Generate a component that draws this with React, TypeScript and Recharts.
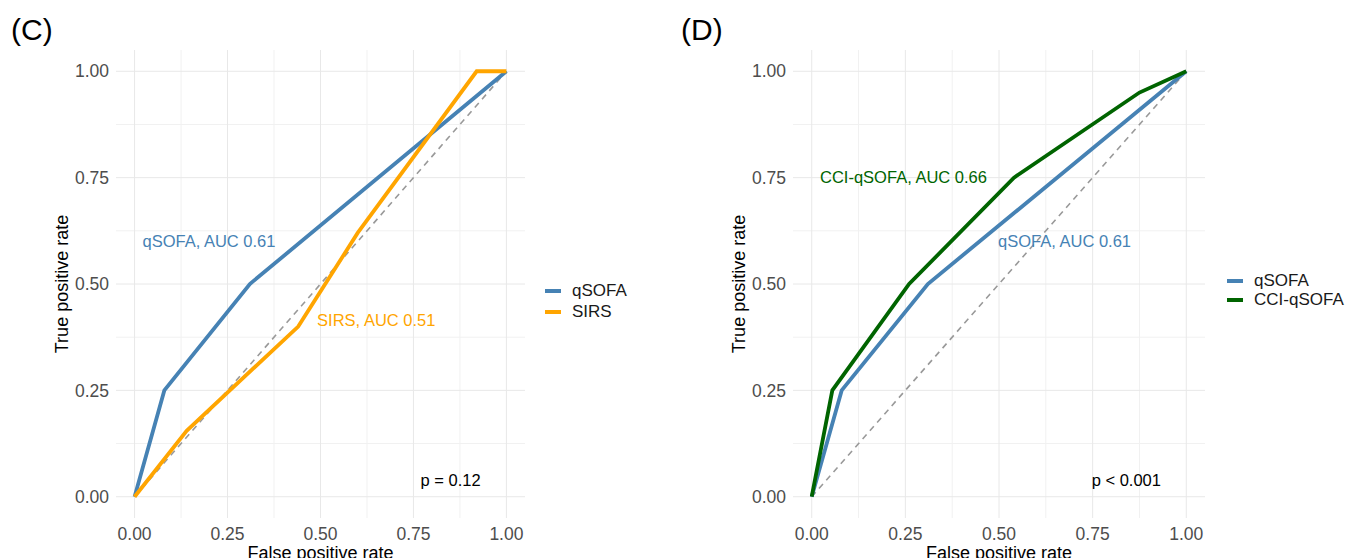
import React from "react";
import {
  LineChart,
  Line,
  XAxis,
  YAxis,
  CartesianGrid,
  ReferenceLine,
  ReferenceDot,
  Legend,
} from "recharts";

// ROC points
const qsofaFpr = [0, 0.08, 0.31, 1];
const qsofaTpr = [0, 0.25, 0.5, 1];

const sirsFpr = [0, 0.14, 0.44, 0.6, 0.92, 1];
const sirsTpr = [0, 0.155, 0.4, 0.62, 1, 1];

const cciFpr = [0, 0.055, 0.26, 0.54, 0.875, 1];
const cciTpr = [0, 0.25, 0.5, 0.75, 0.95, 1];

const majorTicks = [0, 0.25, 0.5, 0.75, 1];
const minorTicks = [0.125, 0.375, 0.625, 0.875];

const BLUE = "#4682B4";
const ORANGE = "#FFA500";
const GREEN = "#006400";
const FONT = "'Liberation Sans', Arial, sans-serif";

const toPoints = (xs: number[], ys: number[]) =>
  xs.map((x, i) => ({ x, y: ys[i] }));

const fmt = (v: number) => v.toFixed(2);

type Series = { name: string; color: string; data: { x: number; y: number }[] };
type Note = { x: number; y: number; text: string; color: string };

const leftSeries: Series[] = [
  { name: "qSOFA", color: BLUE, data: toPoints(qsofaFpr, qsofaTpr) },
  { name: "SIRS", color: ORANGE, data: toPoints(sirsFpr, sirsTpr) },
];

const rightSeries: Series[] = [
  { name: "qSOFA", color: BLUE, data: toPoints(qsofaFpr, qsofaTpr) },
  { name: "CCI-qSOFA", color: GREEN, data: toPoints(cciFpr, cciTpr) },
];

const leftNotes: Note[] = [
  { x: 0.2, y: 0.6, text: "qSOFA, AUC 0.61", color: BLUE },
  { x: 0.65, y: 0.415, text: "SIRS, AUC 0.51", color: ORANGE },
  { x: 0.85, y: 0.04, text: "p = 0.12", color: "#000000" },
];

const rightNotes: Note[] = [
  { x: 0.245, y: 0.75, text: "CCI-qSOFA, AUC 0.66", color: GREEN },
  { x: 0.675, y: 0.6, text: "qSOFA, AUC 0.61", color: BLUE },
  { x: 0.84, y: 0.04, text: "p < 0.001", color: "#000000" },
];

type PanelProps = {
  letter: string;
  left: number;
  width: number;
  marginLeft: number;
  marginRight: number;
  series: Series[];
  notes: Note[];
  legendLeft: number;
  legendTop: number;
  rowHeight: number;
};

function RocPanel(p: PanelProps) {
  const renderLegend = () => (
    <div style={{ fontFamily: FONT, fontSize: 17, color: "#1a1a1a" }}>
      {p.series.map((s) => (
        <div
          key={s.name}
          style={{ display: "flex", alignItems: "center", height: p.rowHeight }}
        >
          <span
            style={{
              display: "inline-block",
              width: 16,
              height: 4,
              background: s.color,
              marginRight: 11,
            }}
          />
          <span>{s.name}</span>
        </div>
      ))}
    </div>
  );

  return (
    <div style={{ position: "absolute", left: p.left, top: 0, width: p.width, height: 558 }}>
      <div
        style={{
          position: "absolute",
          left: 11,
          top: 15,
          fontSize: 30,
          lineHeight: "30px",
          fontFamily: FONT,
          color: "#000",
          zIndex: 2,
        }}
      >
        {p.letter}
      </div>
      <LineChart
        width={p.width}
        height={558}
        margin={{ top: 50, right: p.marginRight, bottom: 12, left: p.marginLeft }}
      >
        <CartesianGrid
          horizontalValues={minorTicks}
          verticalValues={minorTicks}
          stroke="#f1f1f1"
        />
        <CartesianGrid
          horizontalValues={majorTicks}
          verticalValues={majorTicks}
          stroke="#e8e8e8"
        />
        <XAxis
          type="number"
          dataKey="x"
          domain={[-0.05, 1.05]}
          ticks={majorTicks}
          tickFormatter={fmt}
          axisLine={false}
          tickLine={false}
          tickSize={6}
          tickMargin={4}
          height={28}
          tick={{ fill: "#4d4d4d", fontSize: 17.5, fontFamily: FONT }}
          label={{
            value: "False positive rate",
            position: "bottom",
            offset: 0,
            fill: "#000",
            fontSize: 18,
            fontFamily: FONT,
          }}
        />
        <YAxis
          type="number"
          dataKey="y"
          domain={[-0.05, 1.05]}
          ticks={majorTicks}
          tickFormatter={fmt}
          axisLine={false}
          tickLine={false}
          tickSize={5}
          tickMargin={2}
          width={108}
          tick={{ fill: "#4d4d4d", fontSize: 17.5, fontFamily: FONT }}
          label={{
            value: "True positive rate",
            angle: -90,
            position: "center",
            fill: "#000",
            fontSize: 18,
            fontFamily: FONT,
          }}
        />
        <ReferenceLine
          segment={[
            { x: 0, y: 0 },
            { x: 1, y: 1 },
          ]}
          stroke="#999999"
          strokeWidth={1.6}
          strokeDasharray="6 5"
        />
        {p.series.map((s) => (
          <Line
            key={s.name}
            data={s.data}
            dataKey="y"
            name={s.name}
            type="linear"
            stroke={s.color}
            strokeWidth={3.8}
            dot={false}
            activeDot={false}
            isAnimationActive={false}
          />
        ))}
        {p.notes.map((n) => (
          <ReferenceDot
            key={n.text}
            x={n.x}
            y={n.y}
            r={0}
            fill="none"
            stroke="none"
            label={{
              value: n.text,
              position: "center",
              fill: n.color,
              fontSize: 16.5,
              fontFamily: FONT,
            }}
          />
        ))}
        <Legend
          layout="vertical"
          align="center"
          verticalAlign="middle"
          wrapperStyle={{ left: p.legendLeft, top: p.legendTop, width: 140 }}
          content={renderLegend}
        />
      </LineChart>
    </div>
  );
}

export default function App() {
  return (
    <div
      style={{
        position: "absolute",
        left: 0,
        top: 0,
        width: 1349,
        height: 558,
        background: "#fff",
        fontFamily: FONT,
        overflow: "hidden",
      }}
    >
      <RocPanel
        letter="(C)"
        left={0}
        width={680}
        marginLeft={8}
        marginRight={155}
        series={leftSeries}
        notes={leftNotes}
        legendLeft={545}
        legendTop={280}
        rowHeight={21}
      />
      <RocPanel
        letter="(D)"
        left={670}
        width={679}
        marginLeft={15}
        marginRight={144}
        series={rightSeries}
        notes={rightNotes}
        legendLeft={557}
        legendTop={271}
        rowHeight={19.5}
      />
    </div>
  );
}
